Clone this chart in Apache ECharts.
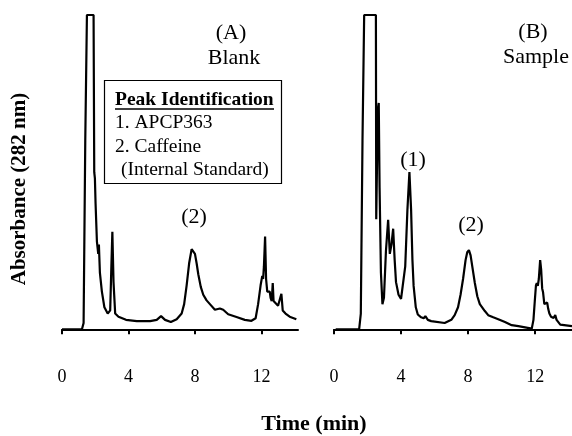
<!DOCTYPE html>
<html>
<head>
<meta charset="utf-8">
<script src="https://cdn.jsdelivr.net/npm/echarts@6/dist/echarts.min.js"></script>
<style>
    html, body { margin: 0; padding: 0; background: #fff; }
    #chart { width: 572px; height: 436px; }
</style>
</head>
<body>
<div id="chart"></div>
<script>
// time ticks shown on both x axes (min)
var timeTicks = [0, 4, 8, 12];

// (A) Blank chromatogram: [time (min), absorbance (relative, 100 = off-scale)]
var blankTrace = [
    [0, 0], [1.2, 0], [1.3, 2], [1.4, 60], [1.5, 100], [1.9, 100], [1.94, 50], [1.98, 48],
    [2.02, 40], [2.1, 28], [2.18, 24], [2.22, 27], [2.28, 18], [2.4, 12], [2.55, 7], [2.75, 5],
    [2.9, 6], [2.97, 20], [3.03, 31], [3.1, 15], [3.2, 5], [3.4, 4], [3.85, 3], [4.5, 2.6],
    [5.3, 2.6], [5.7, 3], [5.96, 4.2], [6.2, 3], [6.55, 2.3], [6.9, 3.2], [7.2, 5], [7.35, 8],
    [7.5, 14], [7.65, 21], [7.8, 25.5], [7.9, 26], [8.0, 24], [8.1, 21], [8.2, 17.5], [8.35, 13.5],
    [8.5, 11], [8.7, 9.2], [8.9, 8], [9.2, 6.2], [9.5, 6.6], [9.7, 6.2], [10.0, 4.8], [10.5, 3.9],
    [11.0, 3], [11.4, 2.7], [11.65, 3.5], [11.8, 8], [11.95, 14], [12.05, 17], [12.1, 16], [12.15, 20],
    [12.22, 29.5], [12.28, 16], [12.35, 12], [12.5, 12], [12.55, 10], [12.62, 9], [12.68, 14.7], [12.73, 9],
    [12.85, 8.5], [13.0, 7.5], [13.1, 8], [13.2, 11.3], [13.28, 6], [13.45, 5], [13.7, 4], [14.1, 3.2]
];

// (B) Sample chromatogram
var sampleTrace = [
    [0.1, 0], [1.5, 0], [1.6, 5], [1.7, 60], [1.8, 100], [2.5, 100], [2.52, 35], [2.56, 50],
    [2.62, 70], [2.67, 72], [2.72, 45], [2.8, 18], [2.89, 8], [2.98, 10], [3.1, 25], [3.23, 34.8],
    [3.33, 24], [3.43, 27], [3.53, 32], [3.62, 22], [3.7, 15], [3.85, 11], [4.0, 9.7], [4.1, 10],
    [4.25, 20], [4.38, 38], [4.5, 50], [4.6, 38], [4.68, 22], [4.75, 13.8], [4.88, 7], [5.0, 4.7],
    [5.2, 3.8], [5.35, 3.5], [5.45, 4.2], [5.6, 3], [5.8, 2.6], [6.6, 2], [7.0, 3], [7.2, 4.5],
    [7.4, 7], [7.55, 11], [7.7, 16], [7.85, 22], [7.95, 24.5], [8.05, 25.2], [8.15, 23.5], [8.25, 20],
    [8.4, 14.8], [8.55, 10.5], [8.7, 8], [9.0, 5.8], [9.2, 4.5], [9.5, 3.8], [9.8, 3.2], [10.2, 2.3],
    [10.6, 1.3], [11.0, 1], [11.4, 0.6], [11.8, 0.2], [11.9, 3], [11.98, 9], [12.05, 14], [12.1, 14.7],
    [12.16, 13.8], [12.22, 16], [12.3, 22], [12.36, 19], [12.42, 13], [12.47, 11.9], [12.55, 8], [12.65, 7.5],
    [12.72, 8.5], [12.78, 6.5], [12.85, 5], [12.95, 4], [13.1, 3.6], [13.2, 4.5], [13.28, 3], [13.5, 1.5],
    [14.2, 1]
];

var serif = "'Liberation Serif', 'DejaVu Serif', serif";

function timeAxis(gridIndex) {
    return {
        type: 'value',
        gridIndex: gridIndex,
        min: timeTicks[0],
        max: 14.2,
        interval: timeTicks[1] - timeTicks[0],
        axisLine: { lineStyle: { color: '#000', width: 2 } },
        axisTick: { show: true, inside: false, length: 5, lineStyle: { color: '#000', width: 2 } },
        axisLabel: {
            color: '#000', fontFamily: serif, fontSize: 18, margin: 23,
            showMaxLabel: false,
            formatter: function (v) { return timeTicks.indexOf(v) >= 0 ? String(v) : ''; }
        },
        splitLine: { show: false }
    };
}

function absAxis(gridIndex) {
    return { type: 'value', gridIndex: gridIndex, min: -5, max: 100, show: false };
}

function trace(idx, data) {
    return {
        type: 'line',
        xAxisIndex: idx,
        yAxisIndex: idx,
        data: data,
        showSymbol: false,
        clip: false,
        lineStyle: { color: '#000', width: 2.2 },
        animation: false
    };
}

function txt(x, y, s, size, weight) {
    return {
        type: 'text', x: x, y: y,
        style: {
            text: s, fill: '#000', font: (weight || 'normal') + ' ' + size + 'px ' + serif,
            align: 'center', verticalAlign: 'middle'
        }
    };
}

function boxLine(x, y, s, weight) {
    return {
        type: 'text', x: x, y: y,
        style: { text: s, fill: '#000', font: (weight || 'normal') + ' 19.5px ' + serif, verticalAlign: 'middle' }
    };
}

var chart = echarts.init(document.getElementById('chart'), null, { renderer: 'canvas' });

chart.setOption({
    backgroundColor: '#fff',
    animation: false,
    grid: [
        { left: 62, width: 236, top: 15, bottom: 91 },
        { left: 334, width: 238, top: 15, bottom: 91 }
    ],
    xAxis: [timeAxis(0), timeAxis(1)],
    yAxis: [absAxis(0), absAxis(1)],
    series: [trace(0, blankTrace), trace(1, sampleTrace)],
    graphic: [
        txt(231, 33, '(A)', 22),
        txt(234, 58, 'Blank', 22),
        txt(533, 32, '(B)', 22),
        txt(536, 57, 'Sample', 22),
        txt(194, 217, '(2)', 22),
        txt(413, 160, '(1)', 22),
        txt(471, 225, '(2)', 22),
        {
            type: 'rect',
            shape: { x: 104.5, y: 80.5, width: 177, height: 103 },
            style: { fill: '#fff', stroke: '#000', lineWidth: 1.2 }
        },
        boxLine(115, 100, 'Peak Identification', 'bold'),
        {
            type: 'line',
            shape: { x1: 115, y1: 109, x2: 274, y2: 109 },
            style: { stroke: '#000', lineWidth: 1.5 }
        },
        boxLine(115, 123, '1. APCP363'),
        boxLine(115, 147, '2. Caffeine'),
        boxLine(121, 170, '(Internal Standard)'),
        txt(314, 424, 'Time (min)', 22, 'bold'),
        {
            type: 'text', x: 20, y: 189, rotation: Math.PI / 2,
            style: {
                text: 'Absorbance (282 nm)', fill: '#000', font: 'bold 21px ' + serif,
                align: 'center', verticalAlign: 'middle'
            }
        }
    ]
});
</script>
</body>
</html>
